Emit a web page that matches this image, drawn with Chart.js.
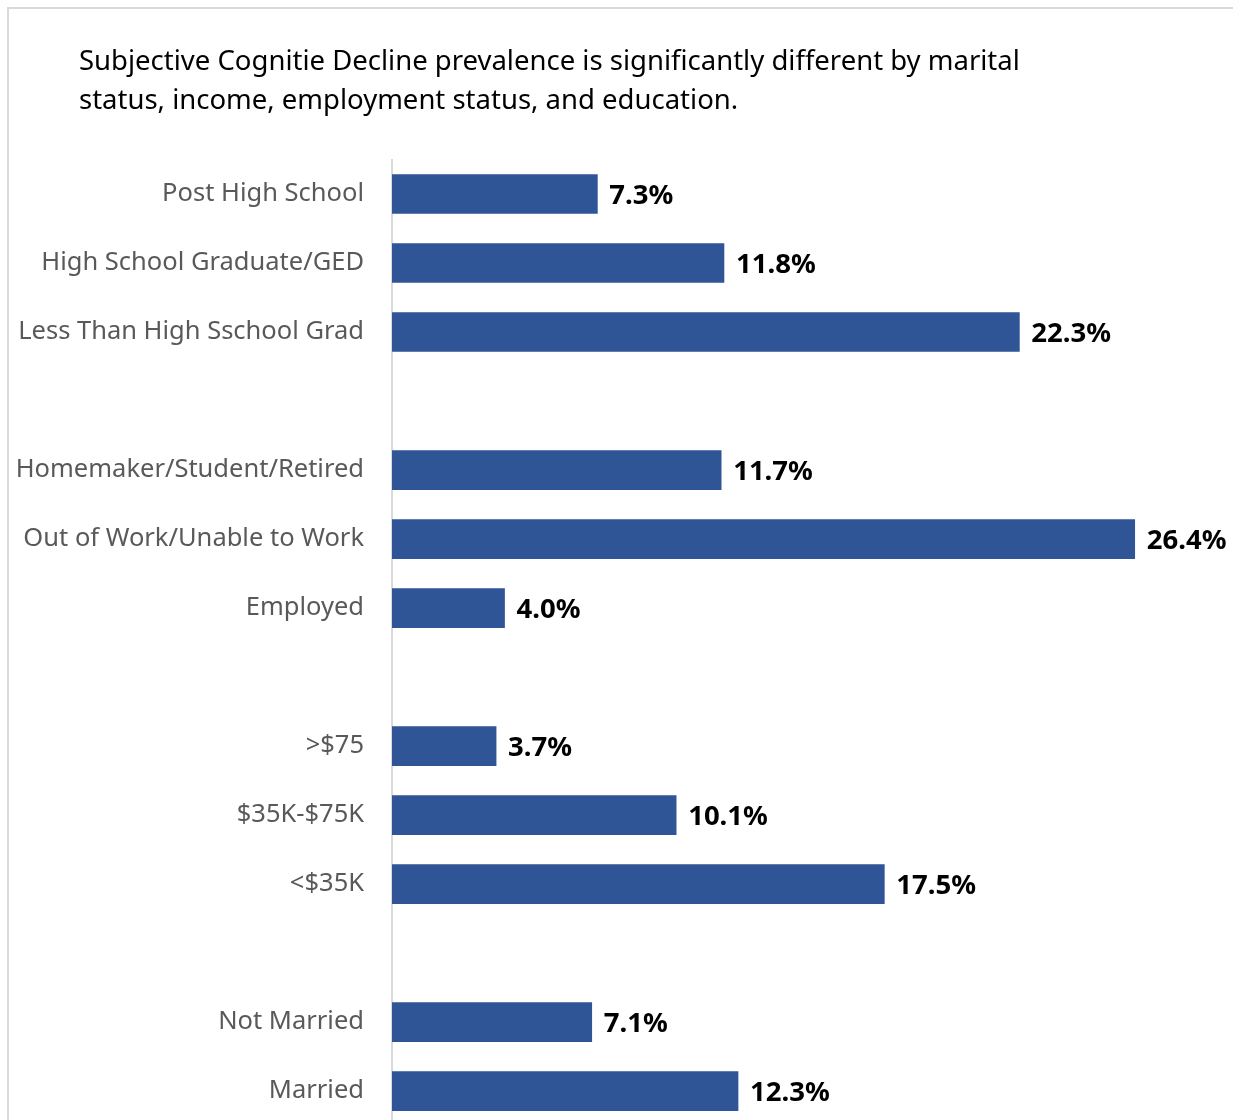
<!DOCTYPE html>
<html>
<head>
<meta charset="utf-8">
<script src="https://cdn.jsdelivr.net/npm/chart.js@4"></script>
<style>
  html, body { margin: 0; padding: 0; background: #fff; overflow: hidden; }
  #wrap { position: relative; width: 1233px; height: 1120px; overflow: hidden; }
  #frame { position: absolute; left: 7px; top: 7px; width: 1300px; height: 1200px; border: 2px solid #d9d9d9; box-sizing: border-box; }
  #sdcChart { position: absolute; left: 0; top: 0; }
</style>
</head>
<body>
<div id="wrap">
  <div id="frame"></div>
  <canvas id="sdcChart" width="1260" height="1169"></canvas>
</div>
<script>
const ctxBar = document.getElementById('sdcChart');

const titleLines = [
    'Subjective Cognitie Decline prevalence is significantly different by marital',
    'status, income, employment status, and education.'
];

// empty labels are the gaps between groups
const categories = [
    'Post High School', 'High School Graduate/GED', 'Less Than High Sschool Grad', '',
    'Homemaker/Student/Retired', 'Out of Work/Unable to Work', 'Employed', '',
    '>$75', '$35K-$75K', '<$35K', '',
    'Not Married', 'Married'
];

const prevalence = [
    7.3, 11.8, 22.3, null,
    11.7, 26.4, 4.0, null,
    3.7, 10.1, 17.5, null,
    7.1, 12.3
];

const barColor = '#2F5597';

// title drawn at the left edge of the frame, not centered on the plot
const titlePlugin = {
    id: 'leftTitle',
    afterDraw(chart) {
        const c = chart.ctx;
        c.save();
        c.fillStyle = '#000';
        c.font = '27.5px "Noto Sans"';
        c.textBaseline = 'alphabetic';
        c.textAlign = 'left';
        titleLines.forEach((t, i) => c.fillText(t, 79, 70 + i * 39));
        c.restore();
    }
};

const valueLabels = {
    id: 'valueLabels',
    afterDatasetsDraw(chart) {
        const c = chart.ctx;
        const meta = chart.getDatasetMeta(0);
        c.save();
        c.fillStyle = '#000';
        c.font = 'bold 27.5px "Noto Sans"';
        c.textAlign = 'left';
        c.textBaseline = 'middle';
        meta.data.forEach((bar, i) => {
            const v = prevalence[i];
            if (v === null) return;
            c.fillText(v.toFixed(1) + '%', bar.x + 12, bar.y + 2);
        });
        c.restore();
    }
};

const configBar = {
    type: 'bar',
    data: {
        labels: categories,
        datasets: [{
            data: prevalence,
            backgroundColor: barColor,
            barThickness: 39
        }]
    },
    plugins: [titlePlugin, valueLabels],
    options: {
        indexAxis: 'y',
        responsive: false,
        animation: false,
        layout: {
            padding: { top: 159.5, bottom: 0, left: 0, right: 24 }
        },
        plugins: {
            legend: { display: false },
            tooltip: { enabled: false }
        },
        scales: {
            x: {
                display: false,
                min: 0,
                max: 30
            },
            y: {
                afterFit(scale) { scale.width = 392; },
                grid: { display: false, drawTicks: false },
                border: { display: true, color: '#d9d9d9', width: 2 },
                ticks: {
                    padding: 28,
                    color: '#595959',
                    font: { family: 'Noto Sans', size: 25.5 }
                }
            }
        }
    }
};

const barChart = new Chart(ctxBar, configBar);
</script>
</body>
</html>
